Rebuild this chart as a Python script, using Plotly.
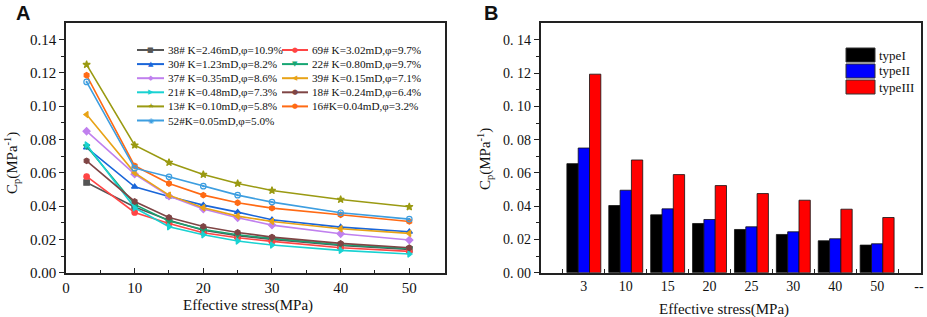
import plotly.graph_objects as go

W, H = 927, 317

# ---------------- data ----------------
stress = [3, 10, 15, 20, 25, 30, 40, 50]

names = ["38# K=2.46mD,φ=10.9%", "69# K=3.02mD,φ=9.7%",
         "30# K=1.23mD,φ=8.2%", "22# K=0.80mD,φ=9.7%",
         "37# K=0.35mD,φ=8.6%", "39# K=0.15mD,φ=7.1%",
         "21# K=0.48mD,φ=7.3%", "18# K=0.24mD,φ=6.4%",
         "13# K=0.10mD,φ=5.8%", "16#K=0.04mD,φ=3.2%",
         "52#K=0.05mD,φ=5.0%"]

s38 = [0.0542, 0.0395, 0.0315, 0.0255, 0.0222, 0.0200, 0.0163, 0.0140]
s69 = [0.0578, 0.0362, 0.0296, 0.0240, 0.0210, 0.0188, 0.0150, 0.0128]
s30 = [0.0752, 0.0516, 0.0458, 0.0406, 0.0364, 0.0318, 0.0274, 0.0246]
s22 = [0.0760, 0.0410, 0.0310, 0.0260, 0.0228, 0.0206, 0.0168, 0.0145]
s37 = [0.0850, 0.0592, 0.0460, 0.0382, 0.0330, 0.0286, 0.0234, 0.0196]
s39 = [0.0950, 0.0600, 0.0466, 0.0390, 0.0340, 0.0308, 0.0264, 0.0236]
s21 = [0.0768, 0.0390, 0.0276, 0.0228, 0.0190, 0.0166, 0.0134, 0.0112]
s18 = [0.0672, 0.0428, 0.0332, 0.0278, 0.0242, 0.0214, 0.0176, 0.0150]
s13 = [0.1250, 0.0766, 0.0662, 0.0590, 0.0536, 0.0494, 0.0440, 0.0396]
s16 = [0.1186, 0.0642, 0.0536, 0.0466, 0.0420, 0.0388, 0.0348, 0.0308]
s52 = [0.1146, 0.0628, 0.0576, 0.0520, 0.0466, 0.0424, 0.0360, 0.0322]
series = [s38, s69, s30, s22, s37, s39, s21, s18, s13, s16, s52]

bar_cats = ["3", "10", "15", "20", "25", "30", "40", "50"]
bar_extra_label = "--"
type_names = ["typeI", "typeII", "typeIII"]
typeI = [0.0656, 0.0404, 0.0348, 0.0296, 0.0260, 0.0230, 0.0192, 0.0166]
typeII = [0.0750, 0.0496, 0.0384, 0.0320, 0.0276, 0.0246, 0.0204, 0.0174]
typeIII = [0.1194, 0.0678, 0.0590, 0.0524, 0.0476, 0.0436, 0.0382, 0.0332]
bar_series = [typeI, typeII, typeIII]

yticks = [0.00, 0.02, 0.04, 0.06, 0.08, 0.10, 0.12, 0.14]
yticktext_a = ["0.00", "0.02", "0.04", "0.06", "0.08", "0.10", "0.12", "0.14"]
yticktext_b = ["0. 00", "0. 02", "0. 04", "0. 06", "0. 08", "0. 10", "0. 12", "0. 14"]

# ---------------- styles ----------------
colors = ["#555555", "#ff4545", "#1a66d9", "#17a673", "#c080ee", "#e8a317",
          "#19d2d2", "#7f4545", "#9a9a12", "#ff6a14", "#3d9ee0"]
symbols = ["square", "circle", "triangle-up", "triangle-down", "diamond",
           "triangle-left", "triangle-right", "hexagon", "star", "hexagon",
           "circle-open-dot"]
glyphs = ["■", "●", "▲", "▼", "◆", "◀", "▶", "●", "★", "●", "◉"]
bar_colors = ["#000000", "#0000ff", "#ff0000"]

SERIF = "Liberation Serif, Times New Roman, serif"
AXC = "#222222"


def px(x):
    return x / W


def py(y):
    return 1 - y / H


def note(text, x, y, size, family=SERIF, color="#111111", xanchor="center", angle=0):
    return dict(text=text, x=px(x), y=py(y), xref="paper", yref="paper", showarrow=False,
                xanchor=xanchor, yanchor="middle", textangle=angle,
                font=dict(family=family, size=size, color=color))


fig = go.Figure()

# ---- panel A lines ----
for nm, vals, c, s in zip(names, series, colors, symbols):
    fig.add_trace(go.Scatter(
        x=stress, y=vals, mode="lines+markers", name=nm,
        line=dict(color=c, width=1.6),
        marker=dict(symbol=s, size=5.5, color=c, line=dict(color=c, width=1.2)),
        xaxis="x", yaxis="y", showlegend=False))

# ---- panel B bars ----
idx = list(range(len(bar_cats)))
for nm, vals, c in zip(type_names, bar_series, bar_colors):
    fig.add_trace(go.Bar(
        x=idx, y=vals, name=nm, marker=dict(color=c, line=dict(color="#111111", width=0.8)),
        xaxis="x2", yaxis="y2", showlegend=False))

minor_y = [0.01, 0.03, 0.05, 0.07, 0.09, 0.11, 0.13]

fig.update_layout(
    width=W, height=H, margin=dict(l=0, r=0, t=0, b=0),
    template="none", plot_bgcolor="white", paper_bgcolor="white",
    barmode="group", bargap=0.19, bargroupgap=0,
    font=dict(family=SERIF, size=15, color="#111111"),
    xaxis=dict(domain=[px(66), px(445)], range=[0, 55.2], tickvals=[0, 10, 20, 30, 40, 50],
               ticks="inside", ticklen=5, tickwidth=1.3, tickcolor=AXC,
               minor=dict(tickvals=[5, 15, 25, 35, 45], ticks="inside", ticklen=3, tickwidth=1.2, tickcolor=AXC),
               showline=True, linecolor=AXC, linewidth=1.6, mirror=True, showgrid=False,
               zeroline=False, automargin=False, tickfont=dict(size=15, family=SERIF)),
    yaxis=dict(domain=[py(272.7), py(23)], range=[0, 0.15], tickvals=yticks, ticktext=yticktext_a,
               ticks="outside", ticklen=5, tickwidth=1.3, tickcolor=AXC,
               minor=dict(tickvals=minor_y, ticks="outside", ticklen=3, tickwidth=1.2, tickcolor=AXC),
               showline=True, linecolor=AXC, linewidth=1.6, mirror=True, showgrid=False,
               zeroline=False, automargin=False, tickfont=dict(size=15, family=SERIF)),
    xaxis2=dict(domain=[px(540.7), px(920.7)], range=[-1.03, 8.04],
                tickvals=list(range(len(bar_cats) + 1)), ticktext=bar_cats + [bar_extra_label],
                ticks="", showline=True, linecolor=AXC, linewidth=1.6, mirror=True,
                minor=dict(tickvals=[i - 0.5 for i in range(len(bar_cats) + 1)], ticks="inside",
                           ticklen=4, tickwidth=1.2, tickcolor=AXC),
                showgrid=False, zeroline=False, automargin=False, anchor="y2",
                tickfont=dict(size=14, family=SERIF)),
    yaxis2=dict(domain=[py(272.7), py(23.3)], range=[0, 0.15], tickvals=yticks, ticktext=yticktext_b,
                ticks="outside", ticklen=5, tickwidth=1.3, tickcolor=AXC,
                minor=dict(tickvals=minor_y, ticks="outside", ticklen=3, tickwidth=1.2, tickcolor=AXC),
                showline=True, linecolor=AXC, linewidth=1.6, mirror=True, showgrid=False,
                zeroline=False, automargin=False, anchor="x2", tickfont=dict(size=14, family=SERIF)),
)

ann = []
shapes = []

# panel labels
ann.append(note("<b>A</b>", 23, 13, 20, family="Liberation Sans, Arial"))
ann.append(note("<b>B</b>", 491, 13, 20, family="Liberation Sans, Arial"))

# axis titles
ann.append(note("Effective stress(MPa)", 248, 305, 15))
ann.append(note("Effective stress(MPa)", 724, 309, 15))
ytitle = "C<sub>p</sub>(MPa<sup>-1</sup>)"
ann.append(note(ytitle, 12, 163, 15, angle=-90))
ann.append(note(ytitle, 485, 159, 15, angle=-90))

# legend A (two columns, row-major)
col_line = [(137, 164), (282, 308)]
row_y0, row_dy = 50, 14.1
for i, (nm, c, g) in enumerate(zip(names, colors, glyphs)):
    col, row = i % 2, i // 2
    x0, x1 = col_line[col]
    yy = row_y0 + row * row_dy
    shapes.append(dict(type="line", xref="paper", yref="paper", x0=px(x0), x1=px(x1),
                       y0=py(yy), y1=py(yy), line=dict(color=c, width=2)))
    ann.append(note(g, (x0 + x1) / 2, yy, 7, family="DejaVu Sans", color=c))
    ann.append(note(nm, x1 + 2, yy, 11.2, xanchor="left"))

# legend B
for j, (nm, c) in enumerate(zip(type_names, bar_colors)):
    yy0 = 48 + j * 16
    shapes.append(dict(type="rect", xref="paper", yref="paper", x0=px(846), x1=px(875),
                       y0=py(yy0), y1=py(yy0 + 14), fillcolor=c, line=dict(color="#333333", width=1)))
    ann.append(note(nm, 877, yy0 + 7, 13, xanchor="left"))

fig.update_layout(annotations=ann, shapes=shapes)
fig.write_html("out.html", config={"displayModeBar": False},
               post_script="document.body.style.margin='0';")
